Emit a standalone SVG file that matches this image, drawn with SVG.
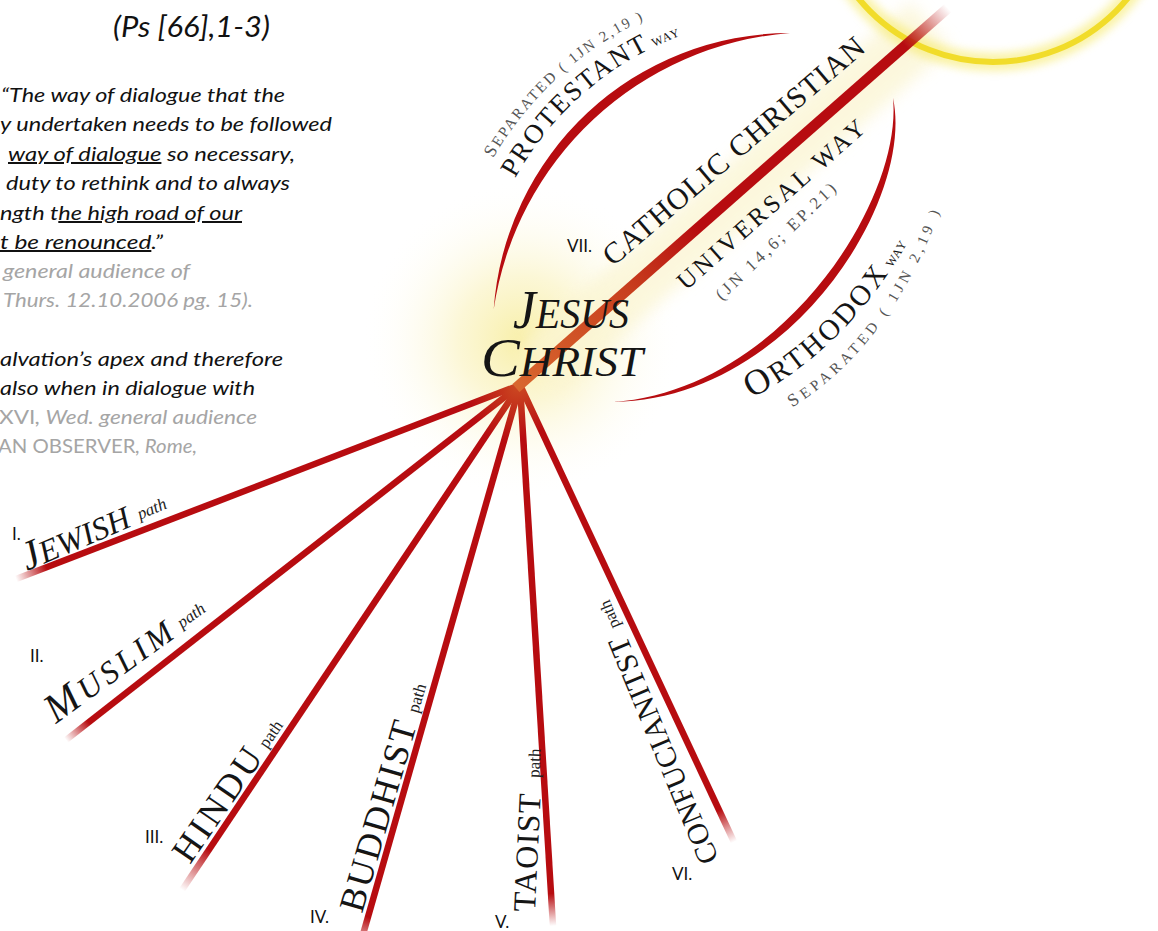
<svg xmlns="http://www.w3.org/2000/svg" xmlns:xlink="http://www.w3.org/1999/xlink" width="1158" height="931" viewBox="0 0 1158 931">
<style>
.q{font-family:Lato,"Open Sans","Liberation Sans",sans-serif;font-style:italic;font-size:20px;fill:#111}
.g{fill:#a5a5a5}
.n{font-style:normal}
.num{font-family:Lato,"Liberation Sans",sans-serif;font-size:17px;fill:#111}
.tr{font-family:"Liberation Serif","DejaVu Serif",serif;fill:#151515}
.it{font-style:italic}
.pth{font-family:"Liberation Serif","DejaVu Serif",serif;font-size:17px;fill:#222}
.sep{font-family:"Liberation Serif","DejaVu Serif",serif;fill:#555}
.ray{fill:none;stroke-width:6.5;stroke-linecap:butt}
</style>
<defs>
<radialGradient id="hubGlow" cx="522" cy="340" r="160" gradientUnits="userSpaceOnUse">
<stop offset="0" stop-color="#f8efa8" stop-opacity="1"/>
<stop offset="0.4" stop-color="#fbf5cc" stop-opacity="0.8"/>
<stop offset="1" stop-color="#ffffff" stop-opacity="0"/>
</radialGradient>
<filter id="blur8" x="-50%" y="-50%" width="200%" height="200%"><feGaussianBlur stdDeviation="8"/></filter>
<filter id="blur4" x="-50%" y="-50%" width="200%" height="200%"><feGaussianBlur stdDeviation="4"/></filter>
<linearGradient id="gMain" gradientUnits="userSpaceOnUse" x1="520" y1="385" x2="948" y2="8">
<stop offset="0" stop-color="#d8662e"/><stop offset="0.25" stop-color="#c8401e"/><stop offset="0.42" stop-color="#b70c10"/><stop offset="0.9" stop-color="#b70c10"/><stop offset="1" stop-color="#b70c10" stop-opacity="0"/>
</linearGradient>
<linearGradient id="gJ" gradientUnits="userSpaceOnUse" x1="520" y1="385" x2="16" y2="579">
<stop offset="0" stop-color="#cc4a22"/><stop offset="0.1" stop-color="#b70c10"/><stop offset="0.94" stop-color="#b70c10"/><stop offset="1" stop-color="#b70c10" stop-opacity="0"/>
</linearGradient>
<linearGradient id="gM" gradientUnits="userSpaceOnUse" x1="520" y1="385" x2="66" y2="740">
<stop offset="0" stop-color="#cc4a22"/><stop offset="0.1" stop-color="#b70c10"/><stop offset="0.95" stop-color="#b70c10"/><stop offset="1" stop-color="#b70c10" stop-opacity="0"/>
</linearGradient>
<linearGradient id="gH" gradientUnits="userSpaceOnUse" x1="520" y1="385" x2="182" y2="890">
<stop offset="0" stop-color="#cc4a22"/><stop offset="0.1" stop-color="#b70c10"/><stop offset="0.92" stop-color="#b70c10"/><stop offset="1" stop-color="#b70c10" stop-opacity="0"/>
</linearGradient>
<linearGradient id="gB" gradientUnits="userSpaceOnUse" x1="520" y1="385" x2="360" y2="945">
<stop offset="0" stop-color="#cc4a22"/><stop offset="0.1" stop-color="#b70c10"/><stop offset="0.95" stop-color="#b70c10"/><stop offset="1" stop-color="#b70c10" stop-opacity="0.2"/>
</linearGradient>
<linearGradient id="gT" gradientUnits="userSpaceOnUse" x1="520" y1="385" x2="553" y2="926">
<stop offset="0" stop-color="#cc4a22"/><stop offset="0.1" stop-color="#b70c10"/><stop offset="0.94" stop-color="#b70c10"/><stop offset="1" stop-color="#b70c10" stop-opacity="0"/>
</linearGradient>
<linearGradient id="gC" gradientUnits="userSpaceOnUse" x1="520" y1="385" x2="734" y2="842">
<stop offset="0" stop-color="#cc4a22"/><stop offset="0.1" stop-color="#b70c10"/><stop offset="0.93" stop-color="#b70c10"/><stop offset="1" stop-color="#b70c10" stop-opacity="0"/>
</linearGradient>
<path id="pProt" d="M 486.7 248.7 A 314 314 0 0 1 871.3 26.7"/>
<path id="pProtSep" d="M 458.7 241.2 A 343 343 0 0 1 878.8 -1.3"/>
<path id="pOrth" d="M 700 420 Q 850 370 930 200"/>
<path id="pOrthSep" d="M 716 442 Q 882 391 947 190"/>
</defs>

<rect width="1158" height="931" fill="#ffffff"/>

<g id="glow">
<circle cx="522" cy="340" r="160" fill="url(#hubGlow)"/>
<line x1="540" y1="368" x2="930" y2="25" stroke="#fbf5d2" stroke-width="60" opacity="0.75" filter="url(#blur8)"/>
</g>

<g id="halo">
<circle cx="993" cy="-112" r="174" fill="none" stroke="#f6e960" stroke-width="18" opacity="0.55" filter="url(#blur4)"/>
<circle cx="993" cy="-112" r="174" fill="none" stroke="#f1dc2a" stroke-width="6"/>
</g>

<g id="connectors">
<path class="ray" stroke="url(#gJ)" d="M 520 385 L 16 579"/>
<path class="ray" stroke="url(#gM)" d="M 520 385 L 66 740"/>
<path class="ray" stroke="url(#gH)" d="M 520 385 L 182 890"/>
<path class="ray" stroke="url(#gB)" d="M 520 385 L 360 945"/>
<path class="ray" stroke="url(#gT)" d="M 520 385 L 553 926"/>
<path class="ray" stroke="url(#gC)" d="M 520 385 L 734 842"/>
<path fill="none" stroke="url(#gMain)" stroke-width="10.5" d="M 516 388 L 948 8"/>
<path id="arc-protestant" fill="#b70c10" d="M 493.7 309.3 A 297 297 0 0 1 790 33 A 325 325 0 0 0 493.7 309.3 Z"/>
<path id="arc-orthodox" fill="#b70c10" d="M 893 98 C 915 200 790 400 613 402 C 782 390 903 200 893 98 Z"/>
</g>

<g id="title">
<text class="q" x="113" y="37" style="font-size:28px" textLength="157" lengthAdjust="spacingAndGlyphs">(Ps [66],1-3)</text>
</g>

<g id="quote">
<text class="q" x="1" y="102" textLength="284" lengthAdjust="spacingAndGlyphs">“The way of dialogue that the</text>
<text class="q" x="0" y="131" textLength="332" lengthAdjust="spacingAndGlyphs">y undertaken needs to be followed</text>
<text class="q" x="8" y="161" textLength="287" lengthAdjust="spacingAndGlyphs"><tspan text-decoration="underline">way of dialogue</tspan> so necessary,</text>
<text class="q" x="6" y="190" textLength="284" lengthAdjust="spacingAndGlyphs">duty to rethink and to always</text>
<text class="q" x="0" y="220" textLength="242" lengthAdjust="spacingAndGlyphs">ngth t<tspan text-decoration="underline">he high road of our</tspan></text>
<text class="q" x="0" y="249" textLength="163" lengthAdjust="spacingAndGlyphs"><tspan text-decoration="underline">t be renounced</tspan>.”</text>
<text class="q g" x="3" y="278" textLength="187" lengthAdjust="spacingAndGlyphs">general audience of</text>
<text class="q g" x="3" y="307" textLength="250" lengthAdjust="spacingAndGlyphs">Thurs. 12.10.2006 pg. 15).</text>
<text class="q" x="0" y="366" textLength="283" lengthAdjust="spacingAndGlyphs">alvation’s apex and therefore</text>
<text class="q" x="0" y="395" textLength="255" lengthAdjust="spacingAndGlyphs">also when in dialogue with</text>
<text class="q g" x="-1" y="424" textLength="258" lengthAdjust="spacingAndGlyphs"><tspan class="n">XVI</tspan>, Wed. general audience</text>
<text class="q g" x="-2" y="453" textLength="199" lengthAdjust="spacingAndGlyphs"><tspan class="n">AN OBSERVER</tspan>, Rome,</text>
</g>

<g id="jesus-christ">
<text class="tr it" x="513" y="328" font-size="42" textLength="116" lengthAdjust="spacingAndGlyphs"><tspan font-size="54">J</tspan>ESUS</text>
<text class="tr it" x="481" y="376" font-size="42" textLength="162" lengthAdjust="spacingAndGlyphs"><tspan font-size="54">C</tspan>HRIST</text>
</g>

<g id="catholic">
<text class="num" x="567" y="252">VII.</text>
<text class="tr" transform="translate(613,267) rotate(-40.5)" font-size="30" textLength="334" lengthAdjust="spacing">CATHOLIC CHRISTIAN</text>
<text class="tr" transform="translate(686,291) rotate(-41.6)" font-size="25" textLength="242" lengthAdjust="spacing" fill="#333">UNIVERSAL WAY</text>
<text class="sep" transform="translate(722,301) rotate(-44)" font-size="17" textLength="160" lengthAdjust="spacing">(JN 14,6; EP.21)</text>
</g>

<g id="protestant">
<text class="tr" font-size="27" letter-spacing="2"><textPath xlink:href="#pProt" href="#pProt" startOffset="76">PROTESTANT<tspan font-size="12" letter-spacing="1"> WAY</tspan></textPath></text>
<text class="sep" font-size="15" letter-spacing="2.2"><textPath xlink:href="#pProtSep" href="#pProtSep" startOffset="90"><tspan font-size="18">S</tspan>EPARATED ( 1JN 2,19 )</textPath></text>
</g>

<g id="orthodox">
<text class="tr" font-size="29" letter-spacing="3"><textPath xlink:href="#pOrth" href="#pOrth" startOffset="56"><tspan font-size="36">O</tspan>RTHODOX<tspan font-size="12" letter-spacing="1"> WAY</tspan></textPath></text>
<text class="sep" font-size="15" letter-spacing="4.2"><textPath xlink:href="#pOrthSep" href="#pOrthSep" startOffset="84"><tspan font-size="18">S</tspan>EPARATED ( 1JN 2,19 )</textPath></text>
</g>

<g id="jewish">
<text class="num" x="12" y="540">I.</text>
<g transform="translate(27,571) rotate(-23)">
<text class="tr it" font-size="32" textLength="115" lengthAdjust="spacing"><tspan font-size="41">J</tspan>EWISH</text>
<text class="pth it" x="124" y="-3">path</text>
</g>
</g>

<g id="muslim">
<text class="num" x="30" y="662">II.</text>
<g transform="translate(56,724) rotate(-36)">
<text class="tr it" font-size="32" textLength="148" lengthAdjust="spacing"><tspan font-size="41">M</tspan>USLIM</text>
<text class="pth it" x="158" y="-3">path</text>
</g>
</g>

<g id="hindu">
<text class="num" x="145" y="843">III.</text>
<g transform="translate(190,865) rotate(-55.5)">
<text class="tr" font-size="36" textLength="130" lengthAdjust="spacing">HINDU</text>
<text class="pth" x="139" y="-2">path</text>
</g>
</g>

<g id="buddhist">
<text class="num" x="310" y="923">IV.</text>
<g transform="translate(362,914) rotate(-73.8)">
<text class="tr" font-size="36" textLength="197" lengthAdjust="spacing">BUDDHIST</text>
<text class="pth" x="208" y="-2" font-size="18">path</text>
</g>
</g>

<g id="taoist">
<text class="num" x="495" y="928">V.</text>
<g transform="translate(535,912) rotate(-87.3)">
<text class="tr" font-size="32" textLength="118" lengthAdjust="spacing">TAOIST</text>
<text class="pth" x="134" y="-2">path</text>
</g>
</g>

<g id="confucianist">
<text class="num" x="672" y="880">VI.</text>
<g transform="translate(719,859) rotate(-112.5)">
<text class="tr" font-size="30" textLength="243" lengthAdjust="spacing">CONFUCIANITST</text>
<text class="pth" x="253" y="-2">path</text>
</g>
</g>
</svg>
